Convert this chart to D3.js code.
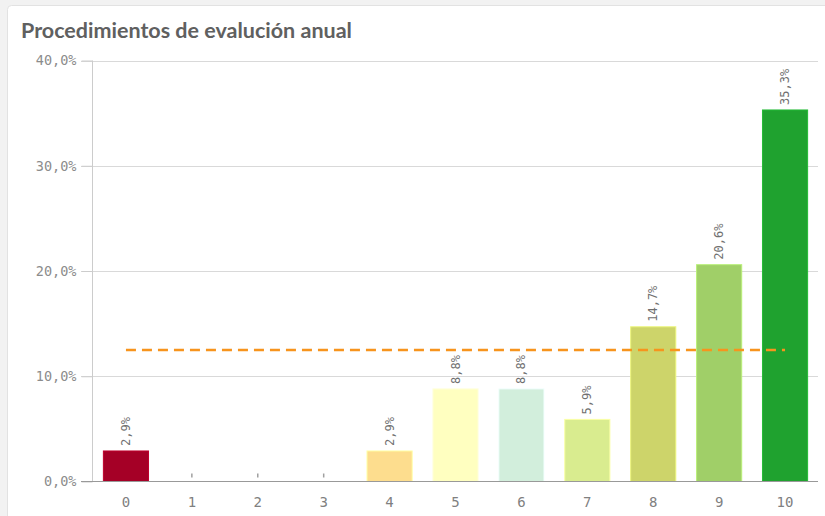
<!DOCTYPE html>
<html><head><meta charset="utf-8">
<script src="https://cdn.jsdelivr.net/npm/d3@7"></script>
<style>
html,body{margin:0;padding:0;background:#f2f2f2;}
svg{display:block;}
</style></head>
<body>
<script>
const categories = ["0","1","2","3","4","5","6","7","8","9","10"];
const values = [2.9, 0, 0, 0, 2.9, 8.8, 8.8, 5.9, 14.7, 20.6, 35.3];
const barColors = ["#a50026","#f46d43","#fdae61","#fee08b","#fddd8e","#ffffc0","#d2eedc","#d9ec8f","#cdd46a","#a0cf68","#1fa22f"];
const yTicks = [0, 10, 20, 30, 40];
const referenceValue = 12.5;
const title = "Procedimientos de evalución anual";

const W = 825, H = 516;
const svg = d3.select("body").append("svg").attr("width", W).attr("height", H);

svg.append("rect").attr("x", 7.5).attr("y", 5.5).attr("width", W).attr("height", H)
  .attr("rx", 4).attr("fill", "#fff").attr("stroke", "#e2e2e2");

const t = svg.append("text").attr("x", 21).attr("y", 38)
  .attr("font-family", "Lato, 'Open Sans', sans-serif").attr("font-weight", "bold")
  .attr("font-size", 18).attr("fill", "#606060").text(title);
const tw = t.node().getComputedTextLength();
t.attr("font-size", 18 * 331 / tw);

const x = d3.scaleBand().domain(categories).range([93, 818]).paddingInner(0.3).paddingOuter(0.15);
const y = d3.scaleLinear().domain([0, 40]).range([481.5, 60.5]);

const fmt = v => d3.format(".1f")(v).replace(".", ",") + "%";
const mono = "'DejaVu Sans Mono', monospace";

// gridlines
svg.append("g").selectAll("line").data(yTicks.filter(d => d > 0)).join("line")
  .attr("x1", 81).attr("x2", 818).attr("y1", d => Math.round(y(d)) + 0.5).attr("y2", d => Math.round(y(d)) + 0.5)
  .attr("stroke", "#d9d9d9").attr("stroke-width", 1);

// y axis
const yAxis = d3.axisLeft(y).tickValues(yTicks).tickFormat(fmt).tickSize(11).tickPadding(5);
const gy = svg.append("g").attr("transform", "translate(92.5,0)").call(yAxis);
gy.select(".domain").attr("stroke", "#cccccc").attr("d", `M0,${y(40)}V${y(0)}`);
gy.selectAll(".tick line").attr("stroke", "#cccccc");
gy.selectAll(".tick text").attr("font-family", mono).attr("font-size", 13.5).attr("fill", "#8c8c8c");

// bars
svg.append("g").selectAll("rect").data(categories.map((c, i) => ({c, v: values[i], col: barColors[i]})).filter(d => d.v > 0))
  .join("rect")
  .attr("x", d => x(d.c) + 0.5).attr("width", x.bandwidth() - 1)
  .attr("y", d => y(d.v)).attr("height", d => y(0) - y(d.v))
  .attr("fill", d => d.col)
  .attr("stroke", d => d3.color(d.col).brighter(0.4)).attr("stroke-width", 1);

// zero markers
svg.append("g").selectAll("line").data(categories.map((c, i) => ({c, v: values[i]})).filter(d => d.v === 0))
  .join("line")
  .attr("x1", d => x(d.c) + x.bandwidth() / 2).attr("x2", d => x(d.c) + x.bandwidth() / 2)
  .attr("y1", y(0) - 8).attr("y2", y(0) - 4)
  .attr("stroke", "#a0a0a0").attr("stroke-width", 1.5);

// x axis
const xAxis = d3.axisBottom(x).tickSize(0).tickPadding(16);
const gx = svg.append("g").attr("transform", `translate(0,${y(0)})`).call(xAxis);
gx.select(".domain").attr("stroke", "#999999").attr("d", "M81,0H818");
gx.selectAll(".tick text").attr("font-family", mono).attr("font-size", 14).attr("fill", "#808080");

// value labels
svg.append("g").selectAll("text").data(categories.map((c, i) => ({c, v: values[i]})).filter(d => d.v > 0))
  .join("text")
  .attr("transform", d => `translate(${x(d.c) + x.bandwidth() / 2 + 4},${y(d.v) - 5}) rotate(-90)`)
  .attr("font-family", mono).attr("font-size", 12).attr("fill", "#707070")
  .text(d => fmt(d.v));

// reference line
svg.append("line")
  .attr("x1", x("0") + x.bandwidth() / 2).attr("x2", x("10") + x.bandwidth() / 2)
  .attr("y1", y(referenceValue)).attr("y2", y(referenceValue))
  .attr("stroke", "#f7941d").attr("stroke-width", 2.5).attr("stroke-dasharray", "10,6");
</script>
</body></html>
